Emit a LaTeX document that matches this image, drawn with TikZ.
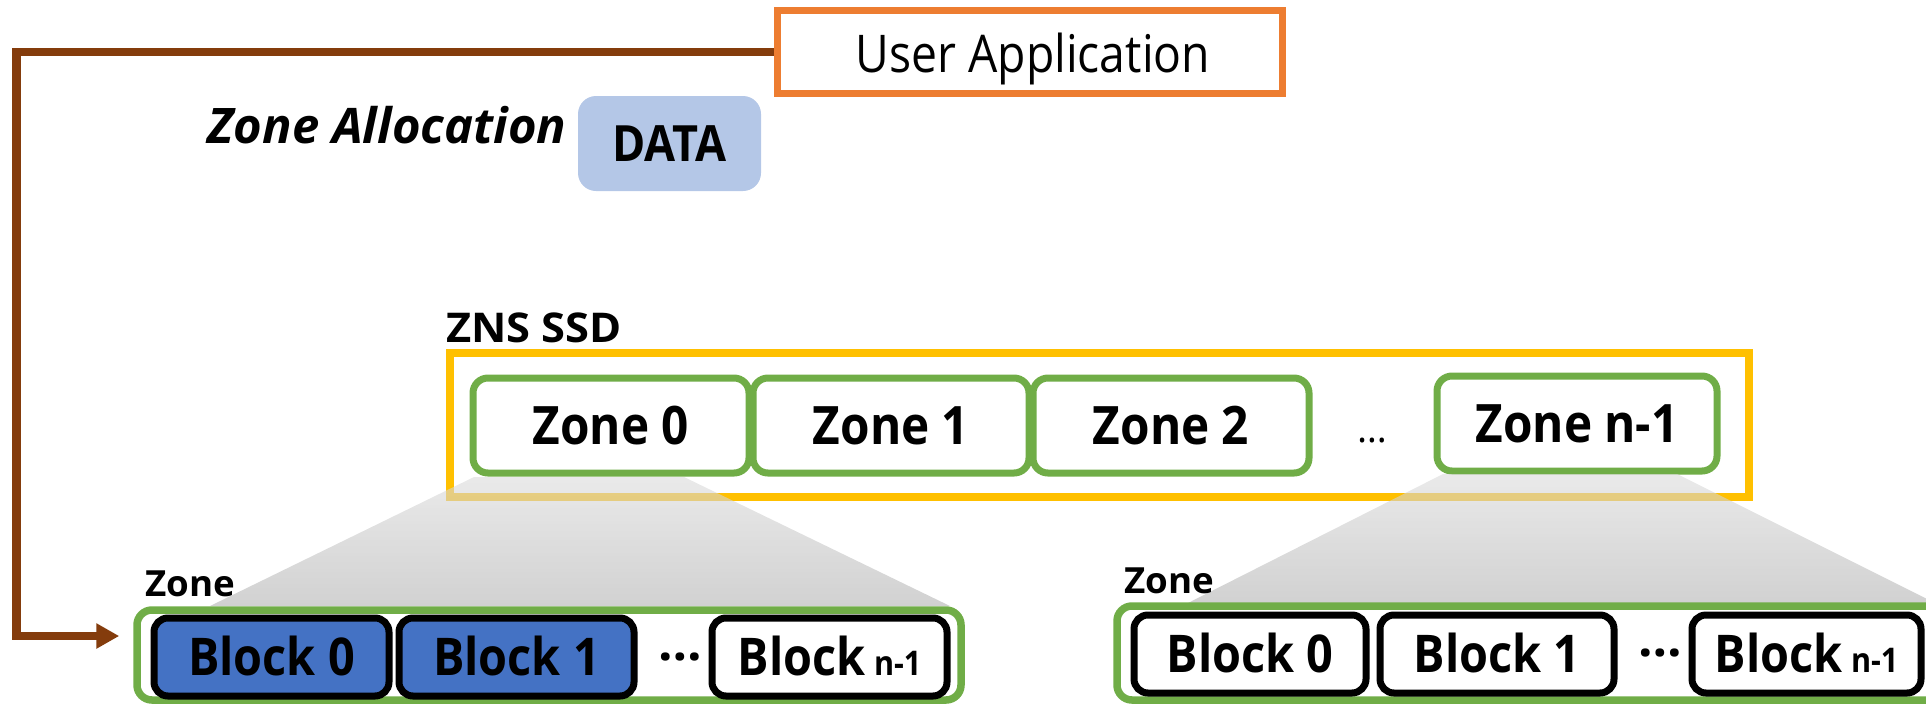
\documentclass[tikz,border=0pt]{standalone}
\usepackage{fontspec}
\setmainfont{Open Sans}
\newfontfamily\boldface{Open Sans}[FakeStretch=0.9]
\newfontfamily\labelface{Open Sans}[FakeStretch=1.02]
\newfontfamily\titleface{Open Sans}[FakeStretch=1.06]
\newfontfamily\plainface{Open Sans}[FakeStretch=0.89]
\newfontfamily\slantface{Open Sans}
\usetikzlibrary{arrows.meta,calc}

\definecolor{appedge}{HTML}{ED7D31}
\definecolor{feedline}{HTML}{843C0C}
\definecolor{ssdedge}{HTML}{FFC000}
\definecolor{zonegreen}{HTML}{70AD47}
\definecolor{datafill}{HTML}{B4C7E7}
\definecolor{usedblock}{HTML}{4472C4}
\definecolor{fanTop}{gray}{0.86}
\definecolor{fanMid}{gray}{0.53}
\definecolor{fanBot}{gray}{0.70}

\begin{document}
\begin{tikzpicture}[x=1pt,y=-1pt,
  bold/.style={font=\boldface\bfseries\fontsize{#1}{#1}\selectfont},
  zonebox/.style={draw=zonegreen, line width=7pt, rounded corners=15pt, fill=white,
    minimum width=276pt, minimum height=95pt, inner sep=0pt,
    text height=38pt, text depth=0pt, bold=53},
  blockbox/.style={draw=black, line width=7pt, rounded corners=14pt,
    minimum width=235pt, minimum height=78pt, inner sep=0pt,
    text height=37pt, text depth=0pt, bold=52},
  usedbox/.style={blockbox, fill=usedblock},
  freebox/.style={blockbox, fill=white},
  container/.style={draw=zonegreen, line width=7.5pt, rounded corners=15pt, fill=white, inner sep=0pt},
  zonelabel/.style={anchor=base west, inner sep=0pt, font=\labelface\bfseries\fontsize{36}{36}\selectfont},
  fan/.style={top color=fanTop, middle color=fanMid, bottom color=fanBot, fill opacity=0.6, draw=none},
  feed/.style={draw=feedline, line width=8.5pt, -{Triangle[length=23pt,width=24pt]}}
]
\useasboundingbox (0,0) rectangle (1926,705);
\clip (0,0) rectangle (1926,705);

% host side
\node[draw=appedge, line width=7pt, minimum width=505pt, minimum height=83.5pt, inner sep=0pt]
  (ua) at (1030,51.75) {};
\node[anchor=base, inner sep=0pt, font=\plainface\fontsize{52}{52}\selectfont]
  (uatext) at (1033,72) {User Application};
\node[anchor=base, inner sep=0pt, font=\slantface\bfseries\itshape\fontsize{49}{49}\selectfont]
  (alloc) at (387,143) {Zone Allocation};
\node[fill=datafill, rounded corners=18pt, minimum width=183pt, minimum height=95pt,
  inner sep=0pt, text height=36pt, text depth=0pt, bold=50] (data) at (669.5,143.5) {DATA};

% device
\node[anchor=base west, inner sep=0pt, font=\titleface\bfseries\fontsize{41}{41}\selectfont]
  (ssdlabel) at (446,342) {ZNS SSD};
\node[draw=ssdedge, line width=8pt, minimum width=1299pt, minimum height=143.5pt, inner sep=0pt]
  (ssd) at (1099.5,424.75) {};
\node[zonebox] (z0) at (611,425.5) {Zone 0};
\node[zonebox] (z1) at (891,425.5) {Zone 1};
\node[zonebox] (z2) at (1171,425.5) {Zone 2};
\node[inner sep=0pt, font=\fontsize{38}{38}\selectfont] (zdots) at (1372,441) {…};
\node[zonebox, minimum width=280pt] (zn) at (1577,423.5) {Zone n-1};

% expanded zones
\shade[fan] (474,477) -- (684,477) -- (950,606) -- (210,606) -- cycle;
\shade[fan] (1443,474) -- (1677,474) -- (1935,603) -- (1188,603) -- cycle;

\node[container, minimum width=824pt, minimum height=90pt] (zoneL) at (549,655) {};
\node[zonelabel] (zlabelL) at (145,596) {Zone};
\node[usedbox] (lb0) at (271.5,657) {Block 0};
\node[usedbox] (lb1) at (516.5,657) {Block 1};
\node[inner sep=0pt, font=\labelface\bfseries\fontsize{50}{50}\selectfont] (ldots) at (680.5,657) {…};
\node[freebox] (lbn) at (829.5,657) {Block\,{\fontsize{34}{34}\selectfont n-1}};

\node[container, minimum width=833pt, minimum height=94pt] (zoneR) at (1533.5,653) {};
\node[zonelabel] (zlabelR) at (1124,593) {Zone};
\node[freebox, minimum width=232pt] (rb0) at (1250,654) {Block 0};
\node[freebox, minimum width=234pt] (rb1) at (1497,654) {Block 1};
\node[inner sep=0pt, font=\labelface\bfseries\fontsize{50}{50}\selectfont] (rdots) at (1660.5,653) {…};
\node[freebox, minimum width=229pt] (rbn) at (1806.5,654) {Block\,{\fontsize{34}{34}\selectfont n-1}};

% allocation path from the application to the zone
\draw[feed] (ua.west) -- ++(-757.5,0) |- ($(zoneL.west)+(-14,-19)$);
\end{tikzpicture}
\end{document}
